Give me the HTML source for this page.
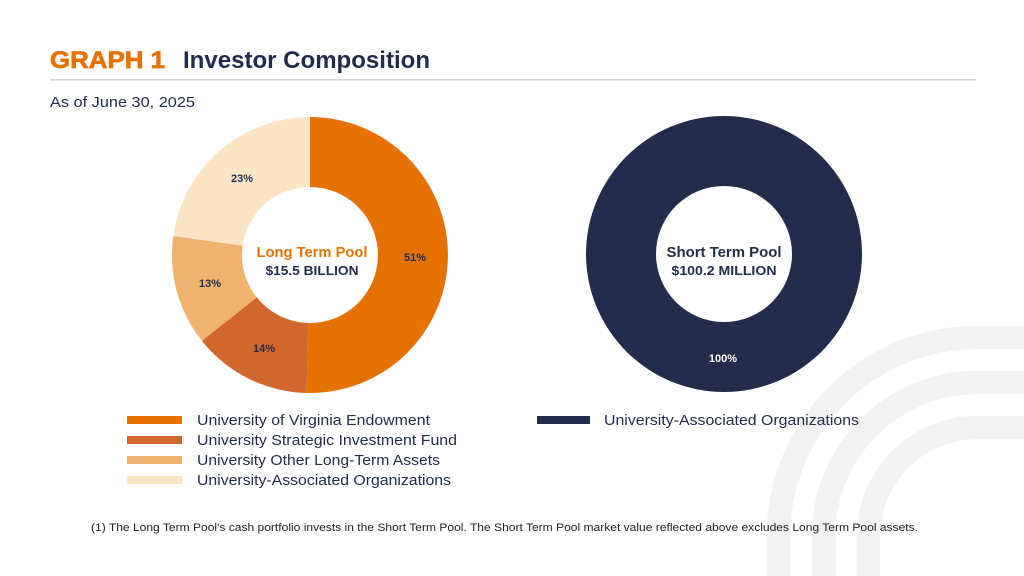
<!DOCTYPE html>
<html>
<head>
<meta charset="utf-8">
<style>
html,body{margin:0;padding:0;background:#fff;}
svg{display:block;}
text{font-family:"Liberation Sans",Arial,sans-serif;}
</style>
</head>
<body>
<svg width="1024" height="576" viewBox="0 0 1024 576" xmlns="http://www.w3.org/2000/svg">
  <rect width="1024" height="576" fill="#ffffff"/>
  <!-- background arcs -->
  <g fill="none" stroke="#F2F2F2" stroke-width="23.5">
    <path d="M778.5 576 L778.5 536 A198.5 198.5 0 0 1 977 337.5 L1024 337.5"/>
    <path d="M823.5 576 L823.5 536 A153.5 153.5 0 0 1 977 382.5 L1024 382.5"/>
    <path d="M868.5 576 L868.5 536 A108.5 108.5 0 0 1 977 427.5 L1024 427.5"/>
  </g>

  <!-- Title -->
  <text x="50" y="68" font-size="24" font-weight="bold" fill="#E57200" stroke="#E57200" stroke-width="0.7" textLength="115" lengthAdjust="spacingAndGlyphs">GRAPH 1</text>
  <text x="183" y="68" font-size="24" font-weight="bold" fill="#232D4B" textLength="247" lengthAdjust="spacingAndGlyphs">Investor Composition</text>
  <rect x="50" y="79" width="926" height="1.6" fill="#D4D4D4"/>
  <text x="50" y="107" font-size="15" fill="#232D4B" textLength="145" lengthAdjust="spacingAndGlyphs">As of June 30, 2025</text>

  <!-- Left donut: center (310,255), R=138, r=68 -->
  <path d="M310 117 A138 138 0 1 1 306.6 392.96 L308.3 322.98 A68 68 0 1 0 310 187 Z" fill="#E57200"/>
  <path d="M306.6 392.96 A138 138 0 0 1 201.9 340.9 L256.7 297.3 A68 68 0 0 0 308.3 322.98 Z" fill="#D2672E"/>
  <path d="M201.9 340.9 A138 138 0 0 1 173.3 236.0 L242.6 245.6 A68 68 0 0 0 256.7 297.3 Z" fill="#F0B26F"/>
  <path d="M173.3 236.0 A138 138 0 0 1 310 117 L310 187 A68 68 0 0 0 242.6 245.6 Z" fill="#FBE5C6"/>

  <g font-size="11" font-weight="bold" fill="#232D4B" text-anchor="middle">
    <text x="415" y="261">51%</text>
    <text x="264" y="352">14%</text>
    <text x="210" y="287">13%</text>
    <text x="242" y="182">23%</text>
  </g>
  <text x="312" y="257" font-size="15" font-weight="bold" fill="#E57200" text-anchor="middle" textLength="111" lengthAdjust="spacingAndGlyphs">Long Term Pool</text>
  <text x="312" y="275" font-size="13" font-weight="bold" fill="#232D4B" text-anchor="middle" textLength="93" lengthAdjust="spacingAndGlyphs">$15.5 BILLION</text>

  <!-- Right donut -->
  <circle cx="724" cy="254" r="138" fill="#232D4B"/>
  <circle cx="724" cy="254" r="68" fill="#ffffff"/>
  <text x="724" y="257" font-size="15" font-weight="bold" fill="#232D4B" text-anchor="middle" textLength="115" lengthAdjust="spacingAndGlyphs">Short Term Pool</text>
  <text x="724" y="275" font-size="13" font-weight="bold" fill="#232D4B" text-anchor="middle" textLength="105" lengthAdjust="spacingAndGlyphs">$100.2 MILLION</text>
  <text x="723" y="362" font-size="11" font-weight="bold" fill="#ffffff" text-anchor="middle">100%</text>

  <!-- Left legend -->
  <rect x="127" y="416" width="55" height="8" fill="#E57200"/>
  <rect x="127" y="436" width="55" height="8" fill="#D2672E"/>
  <rect x="127" y="456" width="55" height="8" fill="#F0B26F"/>
  <rect x="127" y="476" width="55" height="8" fill="#FBE5C6"/>
  <g font-size="15" fill="#232D4B">
    <text x="197" y="425" textLength="233" lengthAdjust="spacingAndGlyphs">University of Virginia Endowment</text>
    <text x="197" y="445" textLength="260" lengthAdjust="spacingAndGlyphs">University Strategic Investment Fund</text>
    <text x="197" y="465" textLength="243" lengthAdjust="spacingAndGlyphs">University Other Long-Term Assets</text>
    <text x="197" y="485" textLength="254" lengthAdjust="spacingAndGlyphs">University-Associated Organizations</text>
  </g>

  <!-- Right legend -->
  <rect x="537" y="416" width="53" height="8" fill="#232D4B"/>
  <text x="604" y="425" font-size="15" fill="#232D4B" textLength="255" lengthAdjust="spacingAndGlyphs">University-Associated Organizations</text>

  <!-- Footnote -->
  <text x="91" y="531" font-size="11" fill="#222222" textLength="827" lengthAdjust="spacingAndGlyphs">(1) The Long Term Pool's cash portfolio invests in the Short Term Pool. The Short Term Pool market value reflected above excludes Long Term Pool assets.</text>
</svg>
</body>
</html>
